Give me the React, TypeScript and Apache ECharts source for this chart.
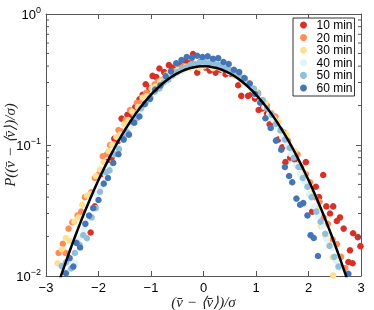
import React, { useEffect, useRef } from "react";
import * as echarts from "echarts";

const seriesNames = ["10 min", "20 min", "30 min", "40 min", "50 min", "60 min"];
const seriesColors = ["#d73027", "#fc8d59", "#fee090", "#e0f3f8", "#91bfdb", "#4575b4"];

const min10X = [-2.15,-2.07,-1.95,-1.84,-1.75,-1.70,-1.63,-1.56,-1.45,-1.38,-1.30,-1.22,-1.16,-1.10,-1.03,-0.97,-0.90,-0.84,-0.75,-0.66,-0.60,-0.53,-0.45,-0.34,-0.27,-0.20,-0.12,-0.06,0.04,0.12,0.23,0.32,0.42,0.52,0.61,0.66,0.72,0.85,0.92,0.98,1.05,1.12,1.21,1.26,1.33,1.42,1.50,1.56,1.65,1.74,1.82,1.95,2.07,2.14,2.20,2.28,2.34,2.41,2.47,2.54,2.60,2.67,2.76,2.79,2.84,2.85,2.94,2.99];
const min10Y = [0.0215,0.034,0.060,0.074,0.080,0.112,0.107,0.159,0.170,0.165,0.195,0.223,0.242,0.291,0.270,0.337,0.330,0.384,0.360,0.407,0.390,0.374,0.410,0.431,0.420,0.494,0.357,0.430,0.390,0.370,0.357,0.375,0.347,0.350,0.340,0.286,0.237,0.237,0.245,0.226,0.185,0.190,0.174,0.144,0.150,0.110,0.096,0.074,0.080,0.0775,0.070,0.074,0.031,0.048,0.040,0.059,0.034,0.030,0.034,0.0263,0.028,0.023,0.0128,0.0157,0.0125,0.0212,0.0198,0.0169];

const min20X = [-2.76,-2.68,-2.63,-2.57,-2.50,-2.40,-2.33,-2.26,-2.14,-2.07,-1.99,-1.92,-1.84,-1.78,-1.71,-1.62,-1.57,-1.48,-1.40,-1.33,-1.27,-1.18,-1.09,-1.02,-0.93,-0.87,-0.78,-0.71,-0.62,-0.55,-0.44,-0.38,-0.29,-0.21,-0.12,-0.04,0.06,0.13,0.22,0.31,0.38,0.47,0.56,0.63,0.72,0.79,0.88,0.96,1.04,1.13,1.21,1.29,1.37,1.46,1.53,1.61,1.70,1.79,1.86,1.95,2.03,2.12,2.21,2.29,2.37,2.46,2.54,2.62,2.70];
const min20Y = [0.0150,0.0176,0.0150,0.0230,0.0257,0.0290,0.0310,0.0400,0.0436,0.0560,0.0600,0.0820,0.0850,0.1000,0.1010,0.1300,0.1270,0.1560,0.1850,0.1750,0.2100,0.2150,0.2500,0.2400,0.2900,0.3050,0.3150,0.3450,0.3380,0.3650,0.3850,0.4000,0.3950,0.4200,0.4100,0.4250,0.4150,0.4050,0.4100,0.3950,0.3850,0.3800,0.3600,0.3500,0.3150,0.3100,0.2950,0.2600,0.2500,0.2100,0.2000,0.1750,0.1650,0.1300,0.1250,0.1080,0.0900,0.0850,0.0680,0.0600,0.0520,0.0400,0.0370,0.0280,0.0250,0.0190,0.0175,0.0140,0.0115];

const min30X = [-2.78,-2.70,-2.62,-2.55,-2.46,-2.38,-2.31,-2.22,-2.16,-2.05,-1.97,-1.90,-1.81,-1.74,-1.66,-1.59,-1.51,-1.43,-1.36,-1.25,-1.16,-1.08,-0.99,-0.91,-0.83,-0.74,-0.66,-0.58,-0.49,-0.41,-0.33,-0.24,-0.16,-0.08,0.01,0.09,0.18,0.26,0.35,0.42,0.51,0.60,0.68,0.76,0.85,0.93,1.01,1.10,1.18,1.26,1.34,1.43,1.50,1.58,1.66,1.74,1.83,1.91,1.99,2.07,2.16,2.24,2.33,2.41,2.46,2.47];
const min30Y = [0.0125,0.0160,0.0195,0.0185,0.0260,0.0280,0.0350,0.0410,0.0420,0.0580,0.0650,0.0740,0.0900,0.1000,0.1150,0.1200,0.1450,0.1550,0.1800,0.1950,0.2300,0.2350,0.2700,0.2800,0.3050,0.3200,0.3500,0.3400,0.3750,0.3700,0.3950,0.3850,0.4050,0.3900,0.4000,0.4100,0.3850,0.3950,0.3800,0.3850,0.3600,0.3350,0.3300,0.3000,0.2900,0.2650,0.2500,0.2150,0.2100,0.1750,0.1600,0.1500,0.1250,0.1200,0.0950,0.0900,0.0700,0.0620,0.0480,0.0430,0.0330,0.0240,0.0200,0.0171,0.0139,0.0101];

const min40X = [-2.60,-2.52,-2.44,-2.37,-2.28,-2.21,-2.12,-2.04,-1.96,-1.88,-1.80,-1.71,-1.63,-1.55,-1.47,-1.38,-1.30,-1.21,-1.13,-1.05,-0.96,-0.88,-0.79,-0.71,-0.62,-0.54,-0.45,-0.37,-0.28,-0.20,-0.11,-0.03,0.05,0.14,0.23,0.31,0.40,0.48,0.57,0.65,0.74,0.82,0.91,0.99,1.08,1.16,1.25,1.33,1.42,1.50,1.59,1.67,1.76,1.84,1.93,2.01,2.10,2.18,2.27,2.35,2.44,2.52,2.61];
const min40Y = [0.0108,0.0130,0.0125,0.0195,0.0230,0.0275,0.0330,0.0420,0.0470,0.0610,0.0690,0.0850,0.0960,0.1100,0.1300,0.1400,0.1650,0.1800,0.2050,0.2200,0.2500,0.2650,0.2950,0.3050,0.3350,0.3450,0.3700,0.3750,0.3950,0.3900,0.4100,0.4050,0.4200,0.4000,0.4050,0.3900,0.3850,0.3600,0.3550,0.3300,0.3150,0.2900,0.2700,0.2400,0.2150,0.1950,0.1700,0.1550,0.1350,0.1150,0.1000,0.0850,0.0700,0.0600,0.0520,0.0420,0.0340,0.0290,0.0240,0.0190,0.0165,0.0130,0.0115];

const min50X = [-2.70,-2.62,-2.52,-2.45,-2.36,-2.29,-2.22,-2.13,-2.05,-1.97,-1.86,-1.79,-1.69,-1.61,-1.52,-1.45,-1.36,-1.27,-1.19,-1.10,-1.01,-0.93,-0.84,-0.76,-0.67,-0.59,-0.50,-0.42,-0.33,-0.25,-0.16,-0.07,0.02,0.11,0.19,0.28,0.36,0.45,0.53,0.62,0.70,0.79,0.87,0.96,1.04,1.13,1.21,1.30,1.38,1.47,1.55,1.64,1.72,1.81,1.89,1.98,2.06,2.15,2.23,2.32,2.40,2.49,2.57];
const min50Y = [0.0119,0.0127,0.0114,0.0150,0.0173,0.0205,0.0194,0.0280,0.0330,0.0440,0.0620,0.0640,0.0850,0.0930,0.1150,0.1250,0.1500,0.1600,0.1900,0.2100,0.2300,0.2550,0.2700,0.3000,0.3150,0.3400,0.3600,0.3800,0.3900,0.4100,0.4150,0.4250,0.4300,0.4200,0.4250,0.4100,0.4000,0.3850,0.3700,0.3550,0.3300,0.3200,0.2900,0.2700,0.2450,0.2200,0.1900,0.1700,0.1450,0.1300,0.1100,0.0950,0.0800,0.0680,0.0560,0.0480,0.0400,0.0310,0.0260,0.0210,0.0170,0.0140,0.0118];

const min60X = [-2.62,-2.55,-2.48,-2.42,-2.35,-2.25,-2.18,-2.10,-2.00,-1.90,-1.82,-1.72,-1.62,-1.52,-1.42,-1.32,-1.22,-1.12,-1.02,-0.92,-0.82,-0.72,-0.62,-0.52,-0.42,-0.32,-0.22,-0.12,-0.02,0.08,0.18,0.28,0.38,0.48,0.58,0.68,0.78,0.88,0.98,1.08,1.18,1.28,1.38,1.48,1.55,1.63,1.69,1.77,1.84,1.90,1.98,2.04,2.10,2.18,2.76];
const min60Y = [0.0105,0.0137,0.0118,0.0179,0.0165,0.0250,0.0289,0.0330,0.0380,0.0507,0.0560,0.0730,0.0850,0.1100,0.1200,0.1480,0.1650,0.2050,0.2250,0.2650,0.2850,0.3350,0.3650,0.4200,0.4450,0.4700,0.4650,0.4800,0.4700,0.4750,0.4550,0.4600,0.4300,0.4150,0.3750,0.3600,0.3250,0.2950,0.2450,0.2100,0.1600,0.1350,0.1080,0.0920,0.0680,0.0580,0.0520,0.0390,0.0350,0.0360,0.0290,0.0205,0.0195,0.0142,0.0104];

const seriesX = [min10X, min20X, min30X, min40X, min50X, min60X];
const seriesY = [min10Y, min20Y, min30Y, min40Y, min50Y, min60Y];

// Fitted standard normal curve parameters
const fitMean = 0;
const fitSigma = 1;

const yMinorTicks = [0.02, 0.03, 0.04, 0.05, 0.06, 0.07, 0.08, 0.09, 0.2, 0.3, 0.4, 0.5, 0.6, 0.7, 0.8, 0.9];
const yTickLabels: Record<string, string> = { "1": "0", "0.1": "−1", "0.01": "−2" };

const FRAME = "#555555";

export default function App() {
  const ref = useRef<HTMLDivElement>(null);
  useEffect(() => {
    const chart = echarts.init(ref.current!, null, { renderer: "svg" });
    const curve: number[][] = [];
    for (let i = 0; i <= 120; i++) {
      const x = -3 + i * 0.05;
      const z = (x - fitMean) / fitSigma;
      curve.push([x, Math.exp(-0.5 * z * z) / (fitSigma * Math.sqrt(2 * Math.PI))]);
    }
    const scatterSeries = seriesNames.map((name, i) => ({
      name,
      type: "scatter",
      xAxisIndex: 0,
      yAxisIndex: 0,
      symbol: "circle",
      symbolSize: 6.5,
      itemStyle: { color: seriesColors[i], opacity: 1 },
      z: 2,
      data: seriesX[i].map((x, j) => [x, seriesY[i][j]]),
    }));
    const tickStyle = { color: FRAME, width: 1 };
    const xLabelFmt = (v: number) => (v < 0 ? "−" + Math.abs(v) : String(v));
    chart.setOption({
      animation: false,
      grid: { left: 46, right: 13, top: 14, bottom: 34, show: false, containLabel: false, outerBoundsMode: "none" },
      legend: {
        orient: "vertical",
        left: 293,
        top: 18,
        padding: [1, 2, 2, 7],
        itemWidth: 16,
        itemHeight: 7,
        itemGap: 0.6,
        borderColor: "#333",
        borderWidth: 1,
        borderRadius: 0,
        backgroundColor: "#fff",
        icon: "circle",
        data: seriesNames,
        textStyle: { fontFamily: "Liberation Sans", fontSize: 12, color: "#000", lineHeight: 12, padding: [0, 0, 0, 0] },
      },
      xAxis: [
        {
          type: "value",
          min: -3,
          max: 3,
          interval: 1,
          axisLine: { show: true, onZero: false, lineStyle: tickStyle },
          axisTick: { show: true, inside: true, length: 5, lineStyle: tickStyle },
          axisLabel: { formatter: xLabelFmt, color: "#000", fontSize: 13, fontFamily: "Liberation Sans", margin: 5 },
          splitLine: { show: false },
          name: "(v\u0304 − ⟨v\u0304⟩)/σ",
          nameLocation: "middle",
          nameGap: 18,
          nameMoveOverlap: false,
          nameTextStyle: { fontFamily: "Liberation Serif", fontStyle: "italic", fontSize: 15, color: "#222" },
        },
        {
          type: "value",
          position: "top",
          min: -3,
          max: 3,
          interval: 1,
          axisLine: { show: true, onZero: false, lineStyle: tickStyle },
          axisTick: { show: true, inside: true, length: 5, lineStyle: tickStyle },
          axisLabel: { show: false },
          splitLine: { show: false },
        },
      ],
      yAxis: [
        {
          type: "log",
          logBase: 10,
          min: 0.01,
          max: 1,
          axisLine: { show: true, onZero: false, lineStyle: tickStyle },
          axisTick: { show: true, inside: true, length: 5, lineStyle: tickStyle },
          axisLabel: {
            formatter: (v: number) => {
              const key = String(Math.round(v * 1000) / 1000);
              return "{b|10}{s|" + (yTickLabels[key] ?? "") + "}";
            },
            margin: 5,
            rich: {
              b: { fontSize: 13, fontFamily: "Liberation Sans", color: "#000" },
              s: { fontSize: 9, fontFamily: "Liberation Sans", color: "#000", padding: [0, 0, 9, 0] },
            },
          },
          splitLine: { show: false },
          name: "P((v\u0304 − ⟨v\u0304⟩)/σ)",
          nameLocation: "middle",
          nameGap: 29,
          nameRotate: 90,
          nameMoveOverlap: false,
          nameTextStyle: { fontFamily: "Liberation Serif", fontStyle: "italic", fontSize: 15, color: "#222" },
        },
        {
          type: "log",
          logBase: 10,
          position: "right",
          min: 0.01,
          max: 1,
          axisLine: { show: true, onZero: false, lineStyle: tickStyle },
          axisTick: { show: true, inside: true, length: 5, lineStyle: tickStyle },
          axisLabel: { show: false },
          splitLine: { show: false },
        },
      ],
      series: [
        ...scatterSeries,
        {
          name: "fit",
          type: "line",
          xAxisIndex: 0,
          yAxisIndex: 0,
          data: curve,
          showSymbol: false,
          symbol: "none",
          smooth: false,
          clip: true,
          lineStyle: { color: "#000", width: 2.5 },
          z: 5,
          silent: true,
        },
        {
          name: "minorTicks",
          type: "custom",
          xAxisIndex: 0,
          yAxisIndex: 0,
          silent: true,
          clip: false,
          z: 6,
          encode: { x: 0, y: 1 },
          data: yMinorTicks.map((v) => [-3, v]),
          renderItem: (_params: any, api: any) => {
            const v = api.value(1);
            const pL = api.coord([-3, v]);
            const pR = api.coord([3, v]);
            return {
              type: "group",
              children: [
                { type: "line", shape: { x1: pL[0], y1: pL[1], x2: pL[0] + 3, y2: pL[1] }, style: { stroke: FRAME, lineWidth: 1 } },
                { type: "line", shape: { x1: pR[0] - 3, y1: pR[1], x2: pR[0], y2: pR[1] }, style: { stroke: FRAME, lineWidth: 1 } },
              ],
            };
          },
        },
      ],
    });
    return () => chart.dispose();
  }, []);
  return <div ref={ref} style={{ position: "fixed", left: 0, top: 0, width: 374, height: 310 }} />;
}
